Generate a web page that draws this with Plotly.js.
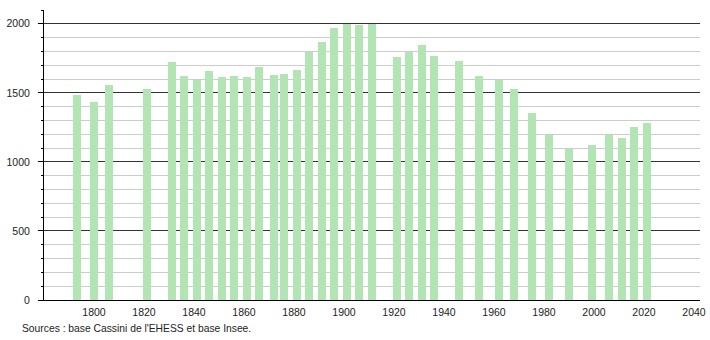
<!DOCTYPE html>
<html>
<head>
<meta charset="utf-8">
<script src="https://cdn.plot.ly/plotly-3.0.1.min.js"></script>
<style>html,body{margin:0;padding:0;background:#fff;}#chart{width:710px;height:340px;}</style>
</head>
<body>
<div id="chart"></div>
<script>
const years = [1793, 1800, 1806, 1821, 1831, 1836, 1841, 1846, 1851, 1856, 1861, 1866, 1872, 1876, 1881, 1886, 1891, 1896, 1901, 1906, 1911, 1921, 1926, 1931, 1936, 1946, 1954, 1962, 1968, 1975, 1982, 1990, 1999, 2006, 2011, 2016, 2021];
const population = [1482, 1432, 1555, 1526, 1721, 1620, 1591, 1656, 1612, 1621, 1612, 1688, 1627, 1634, 1663, 1793, 1865, 1967, 2000, 1993, 2000, 1757, 1793, 1844, 1764, 1728, 1620, 1591, 1526, 1352, 1193, 1099, 1121, 1193, 1171, 1251, 1280];
const xTickVals = [1800, 1820, 1840, 1860, 1880, 1900, 1920, 1940, 1960, 1980, 2000, 2020, 2040];
const yTickVals = [0, 500, 1000, 1500, 2000];
const sourceText = "Sources : base Cassini de l'EHESS et base Insee.";

const trace = {
  type: 'bar',
  x: years,
  y: population,
  width: 3.2,
  marker: {color: '#b2e4b4', line: {width: 0}},
  hoverinfo: 'x+y'
};

const layout = {
  width: 710, height: 340,
  margin: {l: 44, r: 10, t: 10, b: 40},
  paper_bgcolor: '#fff', plot_bgcolor: '#fff',
  font: {family: 'Liberation Sans, Arial, sans-serif', size: 11, color: '#000'},
  showlegend: false,
  bargap: 0,
  xaxis: {
    range: [1780, 2042.4],
    tickmode: 'array', tickvals: xTickVals, ticktext: xTickVals.map(String),
    showgrid: false, zeroline: false,
    showline: true, linecolor: '#000', linewidth: 1,
    ticks: '', ticklabelstandoff: 2,
    tickfont: {size: 10.5, color: '#222'}
  },
  yaxis: {
    range: [0, 2100],
    tickmode: 'array', tickvals: yTickVals, ticktext: yTickVals.map(String),
    showgrid: true, gridcolor: '#333', gridwidth: 1,
    zeroline: false,
    showline: true, linecolor: '#000', linewidth: 1,
    ticks: 'outside', ticklen: 5, tickcolor: '#000',
    ticklabelstandoff: 6,
    tickfont: {size: 10.5, color: '#222'},
    minor: {dtick: 100, tick0: 0, showgrid: true, gridcolor: '#cccccc', gridwidth: 1, ticks: 'outside', ticklen: 2, tickcolor: '#000'}
  },
  annotations: [{
    text: sourceText, xref: 'paper', yref: 'paper',
    x: -44/656, y: -28/290, xanchor: 'left', yanchor: 'middle',
    showarrow: false, font: {size: 10.3, color: '#222'}, xshift: 20
  }]
};

Plotly.newPlot('chart', [trace], layout, {staticPlot: true, displayModeBar: false});
</script>
</body>
</html>
